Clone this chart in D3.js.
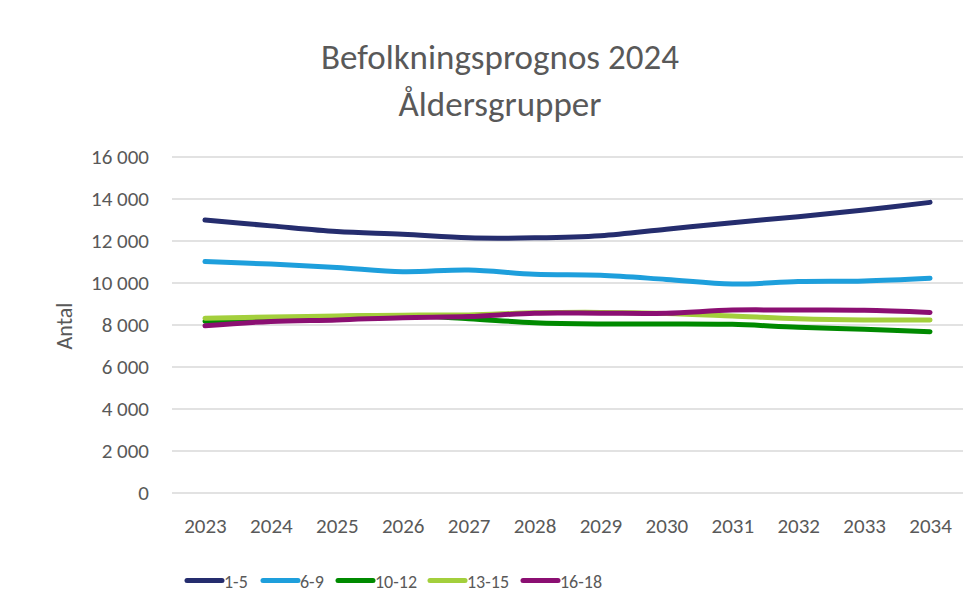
<!DOCTYPE html>
<html>
<head>
<meta charset="utf-8">
<script src="https://cdn.jsdelivr.net/npm/d3@7"></script>
<style>
  body { margin: 0; background: #fff; }
  svg { font-family: Carlito, Calibri, Lato, sans-serif; }
</style>
</head>
<body>
<svg id="chart" width="976" height="608"></svg>
<script>
// data
const years = [2023, 2024, 2025, 2026, 2027, 2028, 2029, 2030, 2031, 2032, 2033, 2034];
const groups = ["1-5", "6-9", "10-12", "13-15", "16-18"];
const age1to5   = [13000, 12720, 12450, 12320, 12150, 12150, 12250, 12560, 12870, 13160, 13480, 13840];
const age6to9   = [11020, 10900, 10740, 10540, 10620, 10420, 10370, 10170, 9950, 10070, 10100, 10230];
const age10to12 = [8180, 8300, 8400, 8450, 8300, 8110, 8050, 8050, 8030, 7890, 7800, 7680];
const age13to15 = [8320, 8380, 8430, 8470, 8480, 8580, 8600, 8550, 8430, 8300, 8240, 8240];
const age16to18 = [7960, 8170, 8240, 8350, 8400, 8560, 8560, 8560, 8710, 8710, 8700, 8600];
const yTicks = [0, 2000, 4000, 6000, 8000, 10000, 12000, 14000, 16000];
const colors = ["#252d6e", "#1e9fdc", "#008a00", "#a3cf3c", "#8b0f72"];

const seriesValues = [age1to5, age6to9, age10to12, age13to15, age16to18];
const series = groups.map((g, i) => ({
    name: g,
    color: colors[i],
    values: years.map((y, j) => ({year: y, value: seriesValues[i][j]}))
}));

const svg = d3.select("#chart");
const margin = {left: 172, right: 13, top: 157, bottom: 115};
const width = 976, height = 608;
const textColor = "#595959";
const font = "Carlito, Calibri, Lato, sans-serif";

// skalor
const x = d3.scalePoint()
    .domain(years)
    .range([margin.left, width - margin.right])
    .padding(0.5);
const y = d3.scaleLinear()
    .domain([0, 16000])
    .range([height - margin.bottom, margin.top]);

const locale = d3.formatLocale({decimal: ",", thousands: " ", grouping: [3], currency: ["", " kr"]});
const fmt = locale.format(",");

// titel
svg.append("text")
    .attr("x", 500).attr("y", 69)
    .attr("text-anchor", "middle")
    .style("font-size", "35px").style("fill", textColor)
    .text("Befolkningsprognos 2024");
svg.append("text")
    .attr("x", 500).attr("y", 116)
    .attr("text-anchor", "middle")
    .style("font-size", "35px").style("fill", textColor)
    .text("Åldersgrupper");

// rutnät
svg.append("g")
    .selectAll("line")
    .data(yTicks)
    .join("line")
    .attr("x1", margin.left).attr("x2", width - margin.right)
    .attr("y1", d => y(d)).attr("y2", d => y(d))
    .style("stroke", "#d9d9d9").style("stroke-width", 1.5);

// y-axel
const yAxis = svg.append("g")
    .attr("transform", `translate(${margin.left - 10},0)`)
    .call(d3.axisLeft(y).tickValues(yTicks).tickFormat(fmt).tickSize(0).tickPadding(13));
yAxis.select(".domain").remove();
yAxis.selectAll("text").style("font-size", "21px").style("fill", textColor)
    .style("font-family", font);

// x-axel
const xAxis = svg.append("g")
    .attr("transform", `translate(0,${height - margin.bottom})`)
    .call(d3.axisBottom(x).tickSize(0));
xAxis.select(".domain").remove();
xAxis.selectAll("text")
    .attr("y", 40).attr("dy", 0)
    .style("font-size", "21px").style("fill", textColor)
    .style("font-family", font);

// y-titel
svg.append("text")
    .attr("transform", "translate(72,326) rotate(-90)")
    .attr("text-anchor", "middle")
    .style("font-size", "22px").style("fill", textColor)
    .text("Antal");

// linjer
const line = d3.line()
    .x(d => x(d.year))
    .y(d => y(d.value))
    .curve(d3.curveCatmullRom.alpha(0.5));
svg.append("g")
    .selectAll("path")
    .data(series)
    .join("path")
    .attr("d", d => line(d.values))
    .style("fill", "none")
    .style("stroke", d => d.color)
    .style("stroke-width", 5)
    .style("stroke-linecap", "round");

// legend
const legendX = [187, 263, 338, 430, 523];
const legend = svg.append("g")
    .selectAll("g")
    .data(series)
    .join("g")
    .attr("transform", (d, i) => `translate(${legendX[i]},580.5)`);
legend.append("line")
    .attr("x1", 0).attr("x2", 35)
    .style("stroke", d => d.color).style("stroke-width", 5)
    .style("stroke-linecap", "round");
legend.append("text")
    .attr("x", 37).attr("y", 7)
    .style("font-size", "18px").style("fill", textColor)
    .text(d => d.name);
</script>
</body>
</html>
